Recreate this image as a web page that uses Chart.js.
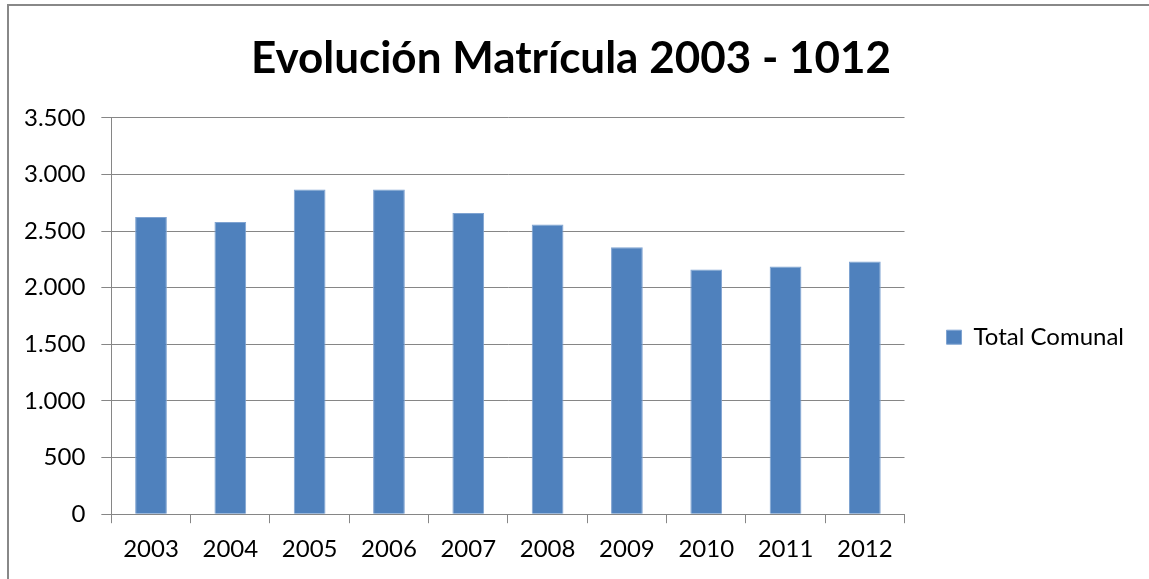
<!DOCTYPE html>
<html lang="es">
  <head>
    <meta charset="UTF-8" />
    <title>Evolución Matrícula</title>
    <style>
      html,
      body {
        margin: 0;
        padding: 0;
        background: #ffffff;
      }
      .wrap {
        position: relative;
        width: 1149px;
        height: 579px;
        overflow: hidden;
      }
      .frame {
        position: absolute;
        left: 7px;
        top: 4px;
        width: 1200px;
        height: 700px;
        border-top: 2px solid #888888;
        border-left: 2px solid #888888;
      }
      canvas {
        position: absolute;
        left: 0;
        top: 0;
      }
    </style>
  </head>
  <body>
    <div class="wrap">
      <div class="frame"></div>
      <canvas id="chart" width="1149" height="579"></canvas>
    </div>

    <script src="https://cdn.jsdelivr.net/npm/chart.js"></script>
    <script>
      var years = ["2003", "2004", "2005", "2006", "2007", "2008", "2009", "2010", "2011", "2012"];
      var totalComunal = [2624, 2580, 2866, 2866, 2660, 2557, 2357, 2160, 2186, 2231];
      var yTicks = [0, 500, 1000, 1500, 2000, 2500, 3000, 3500];

      function miles(v) {
        return String(v).replace(/\B(?=(\d{3})+(?!\d))/g, ".");
      }

      var gridColor = "#868686";
      var ctx = document.getElementById("chart").getContext("2d");
      new Chart(ctx, {
        type: "bar",
        data: {
          labels: years,
          datasets: [
            {
              label: "Total Comunal",
              data: totalComunal,
              backgroundColor: "#4F81BD",
              borderColor: "#7FA3D1",
              borderWidth: 1,
              barPercentage: 0.8,
              categoryPercentage: 0.5,
            },
          ],
        },
        options: {
          responsive: false,
          animation: false,
          layout: {
            padding: { left: 8, right: 15, top: 14, bottom: 3 },
          },
          plugins: {
            title: {
              display: true,
              text: "Evolución Matrícula 2003 - 1012",
              color: "#000000",
              font: { family: "Lato", size: 44, weight: "bold" },
              padding: { top: 18, bottom: 33 },
            },
            legend: {
              position: "right",
              // empty title only pushes the entry down to the reference height
              title: { display: true, text: "", padding: { top: 0, bottom: 70 } },
              labels: {
                color: "#000000",
                font: { family: "Lato", size: 24 },
                boxWidth: 15,
                boxHeight: 14,
                padding: 42,
              },
            },
            tooltip: { enabled: false },
          },
          scales: {
            x: {
              grid: {
                display: true,
                drawOnChartArea: false,
                color: gridColor,
                tickLength: 9,
              },
              border: { color: gridColor },
              ticks: {
                color: "#000000",
                font: { family: "Lato", size: 24 },
                padding: 12,
              },
            },
            y: {
              min: 0,
              max: 3500,
              afterBuildTicks: function (axis) {
                axis.ticks = yTicks.map(function (v) {
                  return { value: v };
                });
              },
              grid: { color: gridColor, tickLength: 10 },
              border: { color: gridColor },
              ticks: {
                color: "#000000",
                font: { family: "Lato", size: 24 },
                padding: 16,
                callback: function (value) {
                  return miles(value);
                },
              },
            },
          },
        },
      });
    </script>
  </body>
</html>
